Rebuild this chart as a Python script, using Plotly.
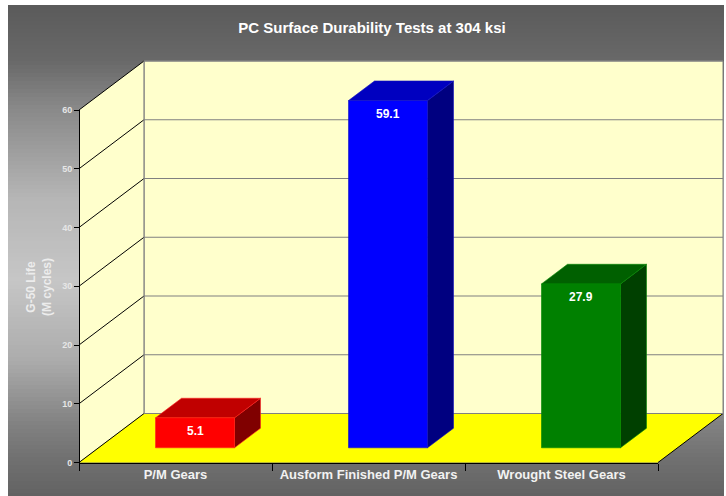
import plotly.graph_objects as go

# ---------------- data ----------------
categories = ["P/M Gears", "Ausform Finished P/M Gears", "Wrought Steel Gears"]
values = [5.1, 59.1, 27.9]
value_labels = ["5.1", "59.1", "27.9"]
y_ticks = [0, 10, 20, 30, 40, 50, 60]
title_text = "PC Surface Durability Tests at 304 ksi"
y_title = "G-50 Life<br>(M cycles)"

# ---------------- styles / geometry ----------------
W, H = 726, 496
px_x0, px_x3 = 79.0, 658.0        # front floor edge, category 0 .. 3
px_y0, px_y60 = 462.5, 110.0      # value 0 .. 60 on front axis
ux = (px_x3 - px_x0) / 3.0
uy = (px_y0 - px_y60) / 60.0
DX = 65.0 / ux                     # depth offset in x units
DY = 49.0 / uy                     # depth offset in y units
YMAX = 60
N = len(categories)

face_cols = {
    "front": ["#FF0000", "#0000FF", "#008000"],
    "top": ["#C00000", "#0000C0", "#006000"],
    "side": ["#800000", "#000080", "#004000"],
    "edge": ["#FF2020", "#1010C0", "#008800"],
}
bar_w = 79.0 / ux
d0, dd = 0.30, 0.40

fig = go.Figure()

def poly(xs, ys, fill, line_color=None, lw=0):
    fig.add_trace(go.Scatter(
        x=list(xs) + [xs[0]], y=list(ys) + [ys[0]], mode="lines",
        fill="toself", fillcolor=fill,
        line=dict(color=line_color or fill, width=lw),
        hoverinfo="skip", showlegend=False))

def seg(xs, ys, color, lw=1):
    fig.add_trace(go.Scatter(x=xs, y=ys, mode="lines",
                             line=dict(color=color, width=lw),
                             hoverinfo="skip", showlegend=False))

# walls
poly([DX, N + DX, N + DX, DX], [DY, DY, YMAX + DY, YMAX + DY], "#FFFFCC", "#808080", 1)
poly([0, DX, DX, 0], [0, DY, YMAX + DY, YMAX], "#FFFFCC", "#FFFFCC", 0)
poly([0, DX, N + DX, N], [0, DY, DY, 0], "#FFFF00", "#FFFF00", 0)
# floor outline (right diagonal)
seg([N, N + DX], [0, DY], "#000000", 1)
# gridlines
for v in y_ticks:
    seg([DX, N + DX], [v + DY, v + DY], "#808080", 1.2)
    seg([0, DX], [v, v + DY], "#000000", 1)
seg([DX, DX], [DY, YMAX + DY], "#808080", 1.2)

# bars
for i, v in enumerate(values):
    xl = i + 0.5 - bar_w / 2 + d0 * DX
    xr = xl + bar_w
    yb = d0 * DY
    ox, oy = dd * DX, dd * DY
    ec = face_cols["edge"][i]
    poly([xr, xr + ox, xr + ox, xr], [yb, yb + oy, yb + v + oy, yb + v],
         face_cols["side"][i], ec, 0.6)
    poly([xl, xr, xr + ox, xl + ox], [yb + v, yb + v, yb + v + oy, yb + v + oy],
         face_cols["top"][i], ec, 0.6)
    poly([xl, xr, xr, xl], [yb, yb, yb + v, yb + v], face_cols["front"][i], ec, 0.6)
    fig.add_annotation(x=(xl + xr) / 2, y=yb + v, xref="x", yref="y",
                       text=value_labels[i], showarrow=False, yanchor="top", yshift=-4,
                       font=dict(family="Liberation Sans", size=12, color="white", weight="bold"))

# dummy traces to activate the visible axes
fig.add_trace(go.Scatter(x=categories, y=[None] * N, xaxis="x2", yaxis="y",
                         mode="markers", showlegend=False, hoverinfo="skip"))
fig.add_trace(go.Scatter(x=[None], y=[None], xaxis="x", yaxis="y2",
                         mode="markers", showlegend=False, hoverinfo="skip"))

# background gradient
stops = [(5, 90), (60, 104), (110, 138), (200, 182), (280, 198), (360, 172),
         (420, 132), (460, 112), (496, 98)]
def gray_at(y):
    for (ya, ga), (yb_, gb) in zip(stops[:-1], stops[1:]):
        if ya <= y <= yb_:
            t = (y - ya) / (yb_ - ya)
            return ga + t * (gb - ga)
    return stops[-1][1]

shapes = []
band = 4
y = 5
while y < H:
    g = int(round(gray_at(y + band / 2)))
    shapes.append(dict(type="rect", xref="paper", yref="paper",
                       x0=8 / W, x1=724 / W, y0=1 - min(y + band + 0.5, H) / H, y1=1 - y / H,
                       fillcolor=f"rgb({g},{g},{g})", line=dict(width=0), layer="below"))
    y += band

fig.update_layout(
    width=W, height=H, margin=dict(l=0, r=0, t=0, b=0, autoexpand=False),
    paper_bgcolor="white", plot_bgcolor="rgba(0,0,0,0)",
    shapes=shapes, showlegend=False, hovermode=False,
    title=dict(text=title_text, x=372 / W, xanchor="center", y=1 - 28 / H, yanchor="middle",
               automargin=False,
               font=dict(family="Liberation Sans", size=15, color="white", weight="bold")),
    xaxis=dict(range=[-px_x0 / ux, (W - px_x0) / ux], visible=False, domain=[0, 1],
               fixedrange=True, automargin=False),
    yaxis=dict(range=[-(H - px_y0) / uy, px_y0 / uy], visible=False, domain=[0, 1],
               fixedrange=True, automargin=False),
    xaxis2=dict(type="category", categoryorder="array", categoryarray=categories,
                range=[-0.5, N - 0.5], domain=[px_x0 / W, px_x3 / W],
                anchor="free", position=(H - px_y0) / H, automargin=False, fixedrange=True,
                showline=True, linecolor="black", linewidth=1,
                ticks="outside", ticklen=7, tickcolor="black", tickson="boundaries",
                showgrid=False, zeroline=False,
                tickfont=dict(family="Liberation Sans", size=13, color="#F2F2F2", weight="bold")),
    yaxis2=dict(range=[0, YMAX], domain=[(H - px_y0) / H, (H - px_y60) / H],
                anchor="free", position=px_x0 / W, automargin=False, fixedrange=True,
                tickvals=y_ticks, showline=True, linecolor="black", linewidth=1,
                ticks="outside", ticklen=5, tickcolor="black",
                showgrid=False, zeroline=False,
                tickfont=dict(family="Liberation Sans", size=9, color="#E6E6E6", weight="bold")),
)

fig.add_annotation(x=39 / W, y=1 - 287 / H, xref="paper", yref="paper",
                   xanchor="center", yanchor="middle",
                   text=y_title, textangle=-90, showarrow=False,
                   font=dict(family="Liberation Sans", size=12, color="#ECECEC", weight="bold"))

fig.write_html("out.html", config={"displayModeBar": False, "staticPlot": True},
               post_script="document.body.style.margin='0';document.body.style.overflow='hidden';")
